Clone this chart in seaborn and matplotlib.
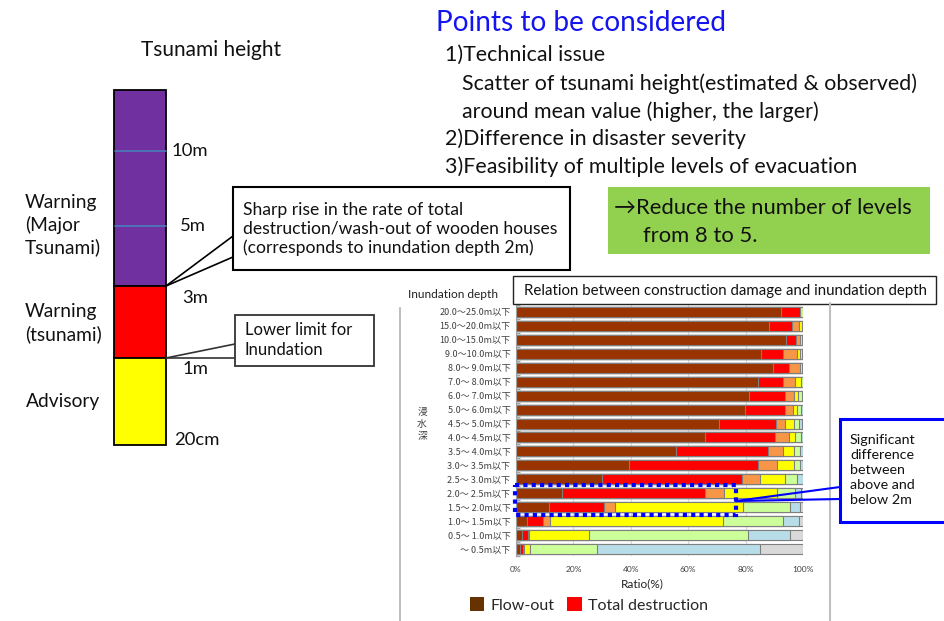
import numpy as np
import pandas as pd
import matplotlib
matplotlib.use("Agg")
import matplotlib.pyplot as plt
from matplotlib.patches import Rectangle, Patch
import seaborn as sns

# ---- damage ratio (%) of wooden houses by inundation depth ----
depth_labels = [
    "20.0～25.0m以下", "15.0～20.0m以下", "10.0～15.0m以下", " 9.0～10.0m以下",
    " 8.0～ 9.0m以下", " 7.0～ 8.0m以下", " 6.0～ 7.0m以下", " 5.0～ 6.0m以下",
    " 4.5～ 5.0m以下", " 4.0～ 4.5m以下", " 3.5～ 4.0m以下", " 3.0～ 3.5m以下",
    " 2.5～ 3.0m以下", " 2.0～ 2.5m以下", " 1.5～ 2.0m以下", " 1.0～ 1.5m以下",
    " 0.5～ 1.0m以下", "～ 0.5m以下",
]
flow_out          = [92.4, 88.1, 94.0, 85.2, 89.7, 84.4, 81.3, 79.9, 70.8, 65.9, 55.9, 39.2, 30.0, 16.0, 11.4, 3.8, 2.1, 1.3]
total_destruction = [6.4, 8.2, 3.4, 7.8, 5.4, 8.6, 12.3, 13.7, 19.7, 24.2, 31.8, 45.0, 48.8, 50.0, 19.2, 5.7, 2.2, 1.1]
major_damage      = [0.0, 2.4, 1.6, 5.0, 3.7, 4.3, 3.4, 3.0, 3.3, 5.1, 5.4, 6.8, 6.3, 6.6, 3.9, 2.4, 0.4, 0.3]
half_destruction  = [0.0, 1.0, 0.5, 1.1, 0.9, 1.9, 1.4, 1.4, 3.2, 2.1, 3.6, 5.7, 8.7, 18.4, 44.7, 60.3, 20.9, 2.1]
partial_damage    = [1.2, 0.3, 0.3, 0.5, 0.3, 0.8, 1.1, 1.2, 1.5, 2.0, 2.3, 2.3, 4.1, 6.3, 16.4, 20.9, 55.1, 23.5]
above_floor       = [0.0, 0.0, 0.2, 0.4, 0.0, 0.0, 0.5, 0.8, 1.0, 0.7, 1.0, 1.0, 2.1, 2.0, 3.2, 5.5, 14.8, 56.8]
below_floor       = [0.0, 0.0, 0.0, 0.0, 0.0, 0.0, 0.0, 0.0, 0.5, 0.0, 0.0, 0.0, 0.0, 0.7, 1.2, 1.4, 4.5, 14.9]

segments = [flow_out, total_destruction, major_damage, half_destruction,
            partial_damage, above_floor, below_floor]
seg_colors = ["#993300", "#FF0000", "#F79646", "#FFFF00", "#CCFF99", "#B7DEE8", "#D9D9D9"]

x_ticks = [0, 20, 40, 60, 80, 100]
legend_labels = ["Flow-out", "Total destruction"]
legend_colors = ["#663300", "#FF0000"]

# ---- tsunami height scale (schematic) ----
band_names = ["Warning\n(Major\nTsunami)", "Warning\n(tsunami)", "Advisory"]
band_colors = ["#7030A0", "#FF0000", "#FFFF00"]
height_labels = ["10m", "5m", "3m", "1m", "20cm"]

sns.set_theme(style="white")
plt.rcParams["font.family"] = ["Lato", "DejaVu Sans"]
CJK = ["Noto Sans CJK JP", "DejaVu Sans"]

W, H = 944, 621
fig = plt.figure(figsize=(W / 100, H / 100), dpi=100)
fig.patch.set_facecolor("white")

# ---- stacked bar chart (cumulative overlays) ----
ax = fig.add_axes([516 / W, 1 - 556 / H, (803 - 516) / W, (556 - 305) / H])
df = pd.DataFrame({"depth": depth_labels})
cum = np.cumsum(np.array(segments), axis=0)
for k in range(len(segments) - 1, -1, -1):
    df["cum"] = cum[k]
    sns.barplot(data=df, x="cum", y="depth", orient="h", order=depth_labels,
                color=seg_colors[k], saturation=1, errorbar=None, width=0.72,
                edgecolor="#7F7F7F", linewidth=0.8, ax=ax)

ax.set_xlim(0, 100)
ax.set_xticks(x_ticks)
ax.set_xticklabels([f"{t}%" for t in x_ticks], fontsize=6, color="#404040")
ax.set_xlabel("")
ax.set_ylabel("")
ax.set_yticks(range(len(depth_labels)))
ax.set_yticklabels(depth_labels, fontsize=6.5, color="#404040", family=CJK)
ax.set_yticks(np.arange(len(depth_labels) + 1) - 0.5, minor=True)
ax.tick_params(axis="y", which="major", length=0, pad=4)
ax.tick_params(axis="y", which="minor", direction="in", length=3, color="#A0A0A0", left=True)
ax.tick_params(axis="x", length=0, pad=7)
ax.set_axisbelow(True)
ax.grid(axis="x", color="#D9D9D9", linewidth=0.8)
for s in ["top", "right", "bottom"]:
    ax.spines[s].set_visible(False)
ax.spines["left"].set_color("#A0A0A0")
ax.spines["left"].set_linewidth(0.8)
ax.set_facecolor("none")

fig.legend(handles=[Patch(facecolor=c, edgecolor="none") for c in legend_colors],
           labels=legend_labels, loc="center", bbox_to_anchor=(589 / W, 1 - 605 / H),
           ncol=2, frameon=False, fontsize=11.5, handlelength=0.9, handleheight=0.9,
           handletextpad=0.4, columnspacing=0.8)

# ---- annotation layer in pixel coordinates ----
ov = fig.add_axes([0, 0, 1, 1], zorder=5)
ov.set_xlim(0, W)
ov.set_ylim(H, 0)
ov.axis("off")
ov.patch.set_alpha(0)

# chart frame
ov.plot([400, 400], [308, 621], color="#BFBFBF", lw=1.5)
ov.plot([830, 830], [303, 621], color="#BFBFBF", lw=1.5)
ov.add_patch(Rectangle((513, 276), 423, 28, facecolor="white", edgecolor="#222222", lw=1.0))
ov.text(524, 291, "Relation between construction damage and inundation depth",
        fontsize=10.8, va="center", ha="left", color="#111111")
ov.text(408, 294, "Inundation depth", fontsize=8.6, va="center", ha="left", color="#222222")
for i, ch in enumerate("浸水深"):
    ov.text(422, 412 + i * 12, ch, fontsize=7, va="center", ha="center",
            color="#404040", family=CJK)
ov.text(642, 584, "Ratio(%)", fontsize=8.5, va="center", ha="center", color="#222222")

# tsunami height column
ov.text(211, 50, "Tsunami height", fontsize=15, va="center", ha="center", color="#111111")
band_edges = [90, 286, 358, 445]
for i, (nm, col) in enumerate(zip(band_names, band_colors)):
    ov.add_patch(Rectangle((114, band_edges[i]), 52, band_edges[i + 1] - band_edges[i],
                           facecolor=col, edgecolor="black", lw=1.3, zorder=2))
for yy in [151, 226]:
    ov.plot([115, 166], [yy, yy], color="#4A7EBB", lw=1.2, zorder=3)
height_pos = [(172, 151), (180, 226), (182, 298), (183, 369), (174, 440)]
for lab, (xx, yy) in zip(height_labels, height_pos):
    ov.text(xx, yy, lab, fontsize=13.3, va="center", ha="left", color="#111111")
band_label_pos = [(25, 225), (25, 323), (26, 401)]
for nm, (xx, yy) in zip(band_names, band_label_pos):
    ov.text(xx, yy, nm, fontsize=13.8, va="center", ha="left", linespacing=1.3, color="#111111")

# callout: sharp rise
ov.plot([166, 233], [286, 236], color="black", lw=1.2)
ov.plot([166, 233], [286, 257], color="black", lw=1.2)
ov.add_patch(Rectangle((233, 187), 337, 83, facecolor="white", edgecolor="black", lw=1.5, zorder=3))
ov.text(243, 229, "Sharp rise in the rate of total\ndestruction/wash-out of wooden houses\n"
        "(corresponds to inundation depth 2m)", fontsize=12.6, va="center", ha="left",
        linespacing=1.2, color="#111111", zorder=4)

# callout: lower limit
ov.plot([166, 235], [358, 344], color="#333333", lw=1.2)
ov.plot([166, 235], [358, 358], color="#333333", lw=1.2)
ov.add_patch(Rectangle((235, 315), 139, 51, facecolor="white", edgecolor="#333333", lw=1.3, zorder=3))
ov.text(245, 340, "Lower limit for\nInundation", fontsize=12, va="center", ha="left",
        linespacing=1.27, color="#111111", zorder=4)

# points to be considered
ov.text(436, 23, "Points to be considered", fontsize=20.2, va="center", ha="left", color="#1414F0")
body = [(445, 55, "1)Technical issue"),
        (462, 84, "Scatter of tsunami height(estimated & observed)"),
        (462, 112, "around mean value (higher, the larger)"),
        (445, 139, "2)Difference in disaster severity"),
        (445, 167, "3)Feasibility of multiple levels of evacuation")]
for xx, yy, t in body:
    ov.text(xx, yy, t, fontsize=15.4, va="center", ha="left", color="#111111")

ov.add_patch(Rectangle((608, 187), 322, 67, facecolor="#92D050", edgecolor="none"))
ov.text(614, 208, "→Reduce the number of levels", fontsize=15.8, va="center", ha="left",
        color="#111111", family=["Lato", "DejaVu Sans"])
ov.text(643, 236, "from 8 to 5.", fontsize=15.8, va="center", ha="left", color="#111111")

# highlight of the 1.5-2.5m rows
ov.add_patch(Rectangle((515, 485), 221, 30, facecolor="none", edgecolor="#0000FF",
                       lw=3, linestyle=(0, (1, 1))))
ov.plot([736, 840], [501, 487], color="#0000FF", lw=1.5)
ov.plot([736, 840], [501, 499], color="#0000FF", lw=1.5)
ov.add_patch(Rectangle((840, 419), 110, 103, facecolor="white", edgecolor="#0000FF", lw=2.2))
ov.text(850, 470, "Significant\ndifference\nbetween\nabove and\nbelow 2m", fontsize=10.3,
        va="center", ha="left", linespacing=1.3, color="#111111")

fig.savefig("out.png", dpi=100, facecolor="white")
